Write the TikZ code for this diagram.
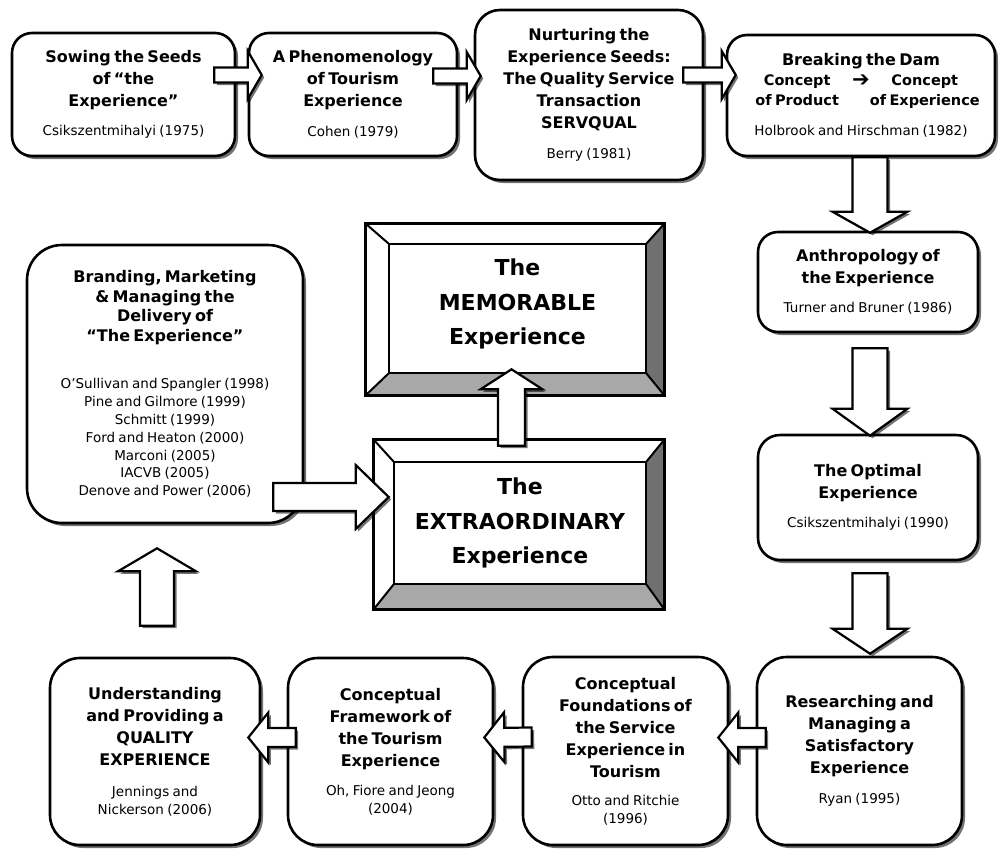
\documentclass[tikz,border=0pt]{standalone}
\usepackage{fontspec}
\setmainfont{DejaVu Sans}
\usetikzlibrary{calc,shadows}
\newcommand\tf{\fontsize{16}{22}\selectfont\bfseries}
\newcommand\cf{\fontsize{13.5}{17.5}\selectfont}
\newcommand\ti[1]{{\tf #1\par}}
\newcommand\ci[1]{{\cf #1\par}}
% block arrow: tail, tip, shaft half width, head half width, head length
\newcommand\blockarrow[5]{%
  \coordinate (ba-t) at #1;
  \coordinate (ba-p) at #2;
  \coordinate (ba-h) at ($(ba-p)!#5!(ba-t)$);
  \filldraw[barrow] ($(ba-t)!#3!90:(ba-p)$) -- ($(ba-h)!#3!90:(ba-p)$) -- ($(ba-h)!#4!90:(ba-p)$)
    -- (ba-p) -- ($(ba-h)!#4!-90:(ba-p)$) -- ($(ba-h)!#3!-90:(ba-p)$) -- ($(ba-t)!#3!-90:(ba-p)$) -- cycle;
}
% bevel: node name, left, top, right, bottom
\newcommand\bevel[5]{%
  \fill[white] (#1.north west) -- (#1.north east) -- ($(#1.north east)+(-#4,#3)$) -- ($(#1.north west)+(#2,#3)$) -- cycle;
  \fill[white] (#1.north west) -- ($(#1.north west)+(#2,#3)$) -- ($(#1.south west)+(#2,-#5)$) -- (#1.south west) -- cycle;
  \fill[bevdark] (#1.north east) -- ($(#1.north east)+(-#4,#3)$) -- ($(#1.south east)+(-#4,-#5)$) -- (#1.south east) -- cycle;
  \fill[bevlight] (#1.south west) -- ($(#1.south west)+(#2,-#5)$) -- ($(#1.south east)+(-#4,-#5)$) -- (#1.south east) -- cycle;
  \draw[bevline] ($(#1.north west)+(#2,#3)$) rectangle ($(#1.south east)+(-#4,-#5)$);
  \draw[bevline] (#1.north west) -- ($(#1.north west)+(#2,#3)$);
  \draw[bevline] (#1.north east) -- ($(#1.north east)+(-#4,#3)$);
  \draw[bevline] (#1.south west) -- ($(#1.south west)+(#2,-#5)$);
  \draw[bevline] (#1.south east) -- ($(#1.south east)+(-#4,-#5)$);
  \draw[line width=2.6pt] (#1.north west) rectangle (#1.south east);
}
\definecolor{bevdark}{HTML}{707070}
\definecolor{bevlight}{HTML}{A8A8A8}
\tikzset{
  shad/.style={drop shadow={shadow xshift=3pt, shadow yshift=-3pt, opacity=0.55, fill=black}},
  rbox/.style={draw, line width=2.6pt, fill=white, rounded corners=#1, inner sep=0pt, align=center, shad},
  rbox/.default=20pt,
  bevout/.style={draw, line width=2.6pt, fill=white, inner sep=0pt, shad},
  bevline/.style={line width=2pt},
  bigtext/.style={font=\fontsize{22}{34.5}\selectfont\bfseries, align=center, inner sep=0pt},
  barrow/.style={draw, line width=2.2pt, fill=white, line join=miter,
    drop shadow={shadow xshift=2.5pt, shadow yshift=-2.5pt, opacity=0.55, fill=black}},
}
\begin{document}
\begin{tikzpicture}[x=1pt,y=-1pt]
\useasboundingbox (0,0) rectangle (1000,849);
\fill[white] (0,0) rectangle (1000,849);

% top row
\node[rbox=20pt, minimum width=223pt, minimum height=123pt, text width=211pt] (sow) at (123.5,94.5)
  {\ti{Sowing the Seeds\\of “the\\Experience”}\vspace{12pt}\ci{Csikszentmihalyi (1975)}};
\node[rbox=20pt, minimum width=208pt, minimum height=123pt, text width=200pt] (phen) at (353,94.5)
  {\ti{A Phenomenology\\of Tourism\\Experience}\vspace{12pt}\ci{Cohen (1979)}};
\node[rbox=25pt, minimum width=228pt, minimum height=170pt, text width=218pt] (nurt) at (589,95)
  {\ti{Nurturing the\\Experience Seeds:\\The Quality Service\\Transaction\\SERVQUAL}\vspace{12pt}\ci{Berry (1981)}};
\node[rbox=20pt, minimum width=268pt, minimum height=121pt, text width=258pt] (dam) at (861,95.5)
  {\ti{Breaking the Dam}%
   {\fontsize{14.5}{20}\selectfont\bfseries
    \makebox[100pt]{Concept}\hspace{5pt}\raisebox{-1pt}{\scalebox{1.45}{➔}}\hspace{5pt}\makebox[100pt]{Concept}\\
    \makebox[100pt]{of Product}\hspace{5pt}\phantom{\scalebox{1.45}{➔}}\hspace{5pt}\makebox[100pt]{of Experience}\par}%
   \vspace{12pt}\ci{Holbrook and Hirschman (1982)}};

% right column
\node[rbox=20pt, minimum width=220pt, minimum height=100pt, text width=210pt] (anth) at (868,282)
  {\ti{Anthropology of\\the Experience}\vspace{11pt}\ci{Turner and Bruner (1986)}};
\node[rbox=22pt, minimum width=220pt, minimum height=125pt, text width=210pt] (opt) at (868,497.5)
  {\ti{The Optimal\\Experience}\vspace{11pt}\ci{Csikszentmihalyi (1990)}\vspace*{17pt}};

% bottom row
\node[rbox=30pt, minimum width=205pt, minimum height=188pt, text width=197pt] (res) at (859.5,751)
  {\ti{Researching and\\Managing a\\Satisfactory\\Experience}\vspace{13pt}\ci{Ryan (1995)}\vspace*{10pt}};
\node[rbox=30pt, minimum width=205pt, minimum height=188pt, text width=197pt] (found) at (625.5,751)
  {\ti{Conceptual\\Foundations of\\the Service\\Experience in\\Tourism}\vspace{11pt}\ci{Otto and Ritchie\\(1996)}};
\node[rbox=30pt, minimum width=205pt, minimum height=187pt, text width=197pt] (frame) at (390.5,751.5)
  {\ti{Conceptual\\Framework of\\the Tourism\\Experience}\vspace{12pt}\ci{Oh, Fiore and Jeong\\(2004)}\vspace*{9pt}};
\node[rbox=30pt, minimum width=210pt, minimum height=187pt, text width=202pt] (und) at (155,751.5)
  {\ti{Understanding\\and Providing a\\QUALITY\\EXPERIENCE}\vspace{14pt}\ci{Jennings and\\Nickerson (2006)}\vspace*{10pt}};

% left
\node[rbox=35pt, minimum width=276pt, minimum height=278pt, text width=266pt] (brand) at (165,384)
  {{\fontsize{16}{19.5}\selectfont\bfseries Branding, Marketing\\\& Managing the\\Delivery of\\“The Experience”\par}%
   \vspace{30pt}%
   {\fontsize{13.5}{17.8}\selectfont O’Sullivan and Spangler (1998)\\Pine and Gilmore (1999)\\Schmitt (1999)\\Ford and Heaton (2000)\\Marconi (2005)\\IACVB (2005)\\Denove and Power (2006)\par}};

% centre bevelled boxes
\node[bevout, minimum width=296pt, minimum height=169pt] (mem) at (515,309.5) {};
\bevel{mem}{23}{20}{18}{22}
\node[bigtext] (memt) at ($(mem.center)+(2.5,-5.5)$) {The\\MEMORABLE\\Experience};
\node[bevout, minimum width=288pt, minimum height=167pt] (ext) at (519,524.5) {};
\bevel{ext}{20}{22}{18}{25}
\node[bigtext] (extt) at ($(ext.center)+(1,-1.5)$) {The\\EXTRAORDINARY\\Experience};

% connectors (block arrows)
\blockarrow{($(sow.east)+(-22,-19.5)$)}{($(phen.west)+(14,-19.5)$)}{7.5pt}{24pt}{14pt}
\blockarrow{($(phen.east)+(-25,-18.5)$)}{($(nurt.west)+(7,-19)$)}{7.5pt}{24pt}{14pt}
\blockarrow{($(nurt.east)+(-21,-20)$)}{($(dam.west)+(10,-20.5)$)}{7.5pt}{24pt}{14pt}
\blockarrow{($(dam.south)+(9,0)$)}{($(dam.south |- anth.north)+(9,2)$)}{17.5pt}{37.5pt}{21pt}
\blockarrow{($(anth.south)+(2,15)$)}{($(anth.south |- opt.north)+(2,2)$)}{17.5pt}{37.5pt}{27pt}
\blockarrow{($(opt.south)+(2,12)$)}{($(opt.south |- res.north)+(2,-2)$)}{17.5pt}{37.5pt}{25pt}
\blockarrow{($(res.west)+(10,-13.5)$)}{($(found.east)+(-11,-13.5)$)}{9.5pt}{25pt}{20pt}
\blockarrow{($(found.west)+(10,-14)$)}{($(frame.east)+(-10,-14)$)}{9.5pt}{25pt}{20pt}
\blockarrow{($(frame.west)+(9,-14)$)}{($(und.east)+(-13,-14)$)}{9.5pt}{25pt}{20pt}
\blockarrow{($(und.north)+(2,-31)$)}{($(und.north |- brand.south)+(2,24)$)}{17pt}{39pt}{23pt}
\blockarrow{($(brand.east |- ext.west)+(-31,-27.5)$)}{($(ext.west)+(15,-27.5)$)}{14pt}{32pt}{33pt}
\blockarrow{($(ext.north)+(-7.5,6)$)}{($(mem.south)+(-3.5,-26)$)}{13.5pt}{31pt}{20pt}
\end{tikzpicture}
\end{document}
